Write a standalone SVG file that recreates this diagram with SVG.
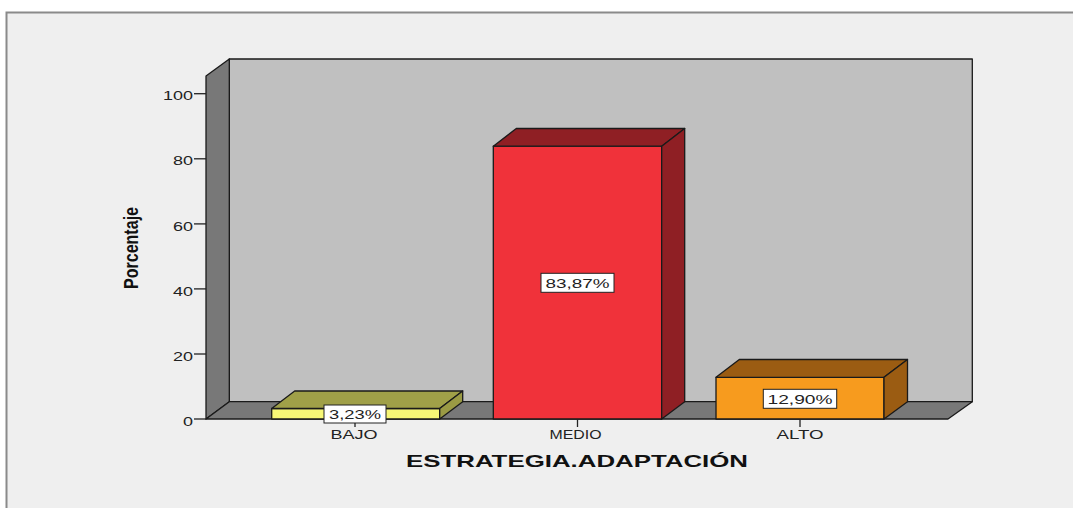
<svg xmlns="http://www.w3.org/2000/svg" width="1073" height="508" viewBox="0 0 1073 508">
<style>
.ax{font-family:"Liberation Sans",Arial,sans-serif;font-size:13px;fill:#222}
.cat{font-family:"Liberation Sans",Arial,sans-serif;font-size:12px;fill:#222}
.val{font-family:"Liberation Sans",Arial,sans-serif;font-size:13px;fill:#222}
.ttl{font-family:"Liberation Sans",Arial,sans-serif;font-size:17px;font-weight:bold;fill:#111}
.edge{stroke:#1a1a1a;stroke-width:1.3;stroke-linejoin:round}
.tick{stroke:#222;stroke-width:1.3}
.box{fill:#fff;stroke:#222;stroke-width:1}
</style>
<rect x="0" y="0" width="1073" height="508" fill="#ffffff"/>
<rect x="6.5" y="12.5" width="1080" height="510" fill="#efefef" stroke="#8a8a8a" stroke-width="2"/>
<g id="frame3d">
<rect class="edge" x="229.3" y="59" width="743" height="342.7" fill="#c0c0c0"/>
<polygon class="edge" points="206,76 229.3,59 229.3,401.7 206,419" fill="#787878"/>
<polygon class="edge" points="206,419 229.3,401.7 972.3,401.7 948,419" fill="#787878"/>
</g>
<g id="yaxis">
<line class="tick" x1="194" y1="93.7" x2="206" y2="93.7"/>
<line class="tick" x1="194" y1="158.8" x2="206" y2="158.8"/>
<line class="tick" x1="194" y1="223.9" x2="206" y2="223.9"/>
<line class="tick" x1="194" y1="288.9" x2="206" y2="288.9"/>
<line class="tick" x1="194" y1="354" x2="206" y2="354"/>
<line class="tick" x1="194" y1="419" x2="206" y2="419"/>
<text class="ax" x="193" y="100.3" text-anchor="end" textLength="30" lengthAdjust="spacingAndGlyphs">100</text>
<text class="ax" x="193" y="165.4" text-anchor="end" textLength="20" lengthAdjust="spacingAndGlyphs">80</text>
<text class="ax" x="193" y="230.5" text-anchor="end" textLength="20" lengthAdjust="spacingAndGlyphs">60</text>
<text class="ax" x="193" y="295.5" text-anchor="end" textLength="20" lengthAdjust="spacingAndGlyphs">40</text>
<text class="ax" x="193" y="360.6" text-anchor="end" textLength="20" lengthAdjust="spacingAndGlyphs">20</text>
<text class="ax" x="193" y="425.6" text-anchor="end" textLength="10" lengthAdjust="spacingAndGlyphs">0</text>
<text transform="translate(137.5,248) scale(1.45,1) rotate(-90)" text-anchor="middle" font-family="Liberation Sans, Arial, sans-serif" font-size="13.5" font-weight="bold" fill="#111" textLength="82" lengthAdjust="spacingAndGlyphs">Porcentaje</text>
</g>
<g id="bar-bajo">
<rect class="edge" x="271.7" y="408.5" width="168" height="10.5" fill="#f7f776"/>
<polygon class="edge" points="271.7,408.5 294.7,391 462.7,391 439.7,408.5" fill="#a0a048"/>
<polygon class="edge" points="439.7,408.5 462.7,391 462.7,401.7 439.7,419" fill="#9a9a44"/>
<rect class="box" x="324" y="405" width="62" height="18"/>
<text class="val" x="355" y="419" text-anchor="middle" textLength="52" lengthAdjust="spacingAndGlyphs">3,23%</text>
<line class="tick" x1="355" y1="423" x2="355" y2="427"/>
<text class="cat" x="354" y="438.5" text-anchor="middle" textLength="47" lengthAdjust="spacingAndGlyphs">BAJO</text>
</g>
<g id="bar-medio">
<rect class="edge" x="493.3" y="146.2" width="168.4" height="272.8" fill="#f0323a"/>
<polygon class="edge" points="493.3,146.2 516.3,128.5 684.7,128.5 661.7,146.2" fill="#8f1f24"/>
<polygon class="edge" points="661.7,146.2 684.7,128.5 684.7,401.7 661.7,419" fill="#8f1f24"/>
<rect class="box" x="541" y="273.3" width="73" height="19"/>
<text class="val" x="577.5" y="287.8" text-anchor="middle" textLength="64" lengthAdjust="spacingAndGlyphs">83,87%</text>
<line class="tick" x1="577.5" y1="419" x2="577.5" y2="427"/>
<text class="cat" x="575.5" y="438.5" text-anchor="middle" textLength="52" lengthAdjust="spacingAndGlyphs">MEDIO</text>
</g>
<g id="bar-alto">
<rect class="edge" x="716" y="377.3" width="168" height="41.7" fill="#f79b1e"/>
<polygon class="edge" points="716,377.3 739.3,359.5 907.5,359.5 884,377.3" fill="#9b5c12"/>
<polygon class="edge" points="884,377.3 907.5,359.5 907.5,401.7 884,419" fill="#9b5c12"/>
<rect class="box" x="763.3" y="389.3" width="73.4" height="19"/>
<text class="val" x="800" y="403.8" text-anchor="middle" textLength="65" lengthAdjust="spacingAndGlyphs">12,90%</text>
<line class="tick" x1="800" y1="419" x2="800" y2="427"/>
<text class="cat" x="800" y="438.5" text-anchor="middle" textLength="47" lengthAdjust="spacingAndGlyphs">ALTO</text>
</g>
<g id="connectors"></g>
<text class="ttl" x="577" y="466.5" text-anchor="middle" textLength="342" lengthAdjust="spacingAndGlyphs">ESTRATEGIA.ADAPTACIÓN</text>
</svg>
